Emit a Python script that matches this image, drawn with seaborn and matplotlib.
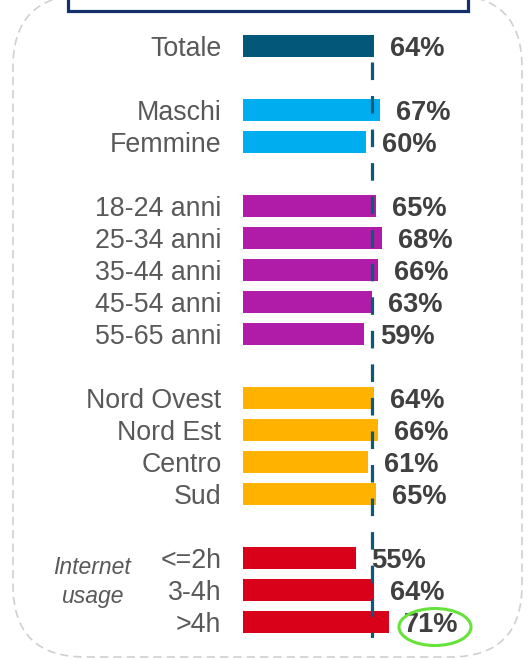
import matplotlib
matplotlib.use("Agg")
import matplotlib.pyplot as plt
import seaborn as sns
import pandas as pd
from matplotlib.patches import FancyBboxPatch, Rectangle, Ellipse

categories = ["Totale", "Maschi", "Femmine",
              "18-24 anni", "25-34 anni", "35-44 anni", "45-54 anni", "55-65 anni",
              "Nord Ovest", "Nord Est", "Centro", "Sud",
              "<=2h", "3-4h", ">4h"]
values = [64, 67, 60, 65, 68, 66, 63, 59, 64, 66, 61, 65, 55, 64, 71]
groups = ["Totale", "Genere", "Genere",
          "Età", "Età", "Età", "Età", "Età",
          "Area", "Area", "Area", "Area",
          "Internet", "Internet", "Internet"]
positions = [0, 2, 3, 5, 6, 7, 8, 9, 11, 12, 13, 14, 16, 17, 18]
group_colors = {"Totale": "#03587A", "Genere": "#00AEEF", "Età": "#B01CA8",
                "Area": "#FFB300", "Internet": "#D9001A"}
reference_value = 63
group_note = "Internet\nusage"

df = pd.DataFrame({"cat": categories, "val": values, "grp": groups, "pos": positions})

sns.set_theme(style="white")
plt.rcParams["font.family"] = ["Liberation Sans", "DejaVu Sans"]

W, H = 529, 660
fig = plt.figure(figsize=(W / 100, H / 100), dpi=100)
fig.patch.set_facecolor("white")

# main axes: x=0 at px 243, 2.05 px per %, rows every 32 px starting at y=46
left_px, px_per = 243, 2.05
top_px, row_px = 46 - 16, 32
ax = fig.add_axes([left_px / W, 1 - (top_px + 19 * row_px) / H,
                   100 * px_per / W, 19 * row_px / H])
ax.set_facecolor("none")

sns.barplot(data=df, x="val", y="pos", hue="grp", palette=group_colors,
            orient="h", native_scale=True, dodge=False, width=0.69,
            legend=False, ax=ax, saturation=1, edgecolor="none")

ax.set_xlim(0, 100)
ax.set_ylim(18.5, -0.5)
ax.set_yticks(positions)
ax.set_yticklabels(categories, fontsize=19.3, color="#595959")
ax.tick_params(axis="y", length=0, pad=15.5)
ax.set_xticks([])
ax.set_xlabel("")
ax.set_ylabel("")
for s in ax.spines.values():
    s.set_visible(False)

for p, v in zip(positions, values):
    ax.text(v + 7.7, p + 0.31, f"{v}%", ha="left", va="baseline", fontsize=19.6,
            fontweight="bold", color="#404040")

ax.plot([reference_value, reference_value], [0.5, 18.5], color="#0B5A78",
        lw=2.3, linestyle=(0, (5.5, 5)), zorder=5)

# overlay for decorations in pixel coordinates
ov = fig.add_axes([0, 0, 1, 1], zorder=-1)
ov.set_xlim(0, W)
ov.set_ylim(H, 0)
ov.axis("off")
ov.add_patch(FancyBboxPatch((13, -5), 509, 662,
                            boxstyle="round,pad=0,rounding_size=72",
                            fill=False, edgecolor="#D0D0D0", lw=1.2,
                            linestyle=(0, (5, 3))))
ov.add_patch(Rectangle((68, -60), 400, 71, fill=False, edgecolor="#14306B", lw=2.3))
ov.text(92, 582, group_note, ha="center", va="center", fontsize=16.5,
        style="italic", color="#595959", linespacing=1.3)

ov2 = fig.add_axes([0, 0, 1, 1], zorder=10)
ov2.set_xlim(0, W)
ov2.set_ylim(H, 0)
ov2.axis("off")
ov2.patch.set_alpha(0)
ov2.add_patch(Ellipse((435, 627), 72, 37, fill=False, edgecolor="#66E33A", lw=2.2))

fig.savefig("out.png", dpi=100)
